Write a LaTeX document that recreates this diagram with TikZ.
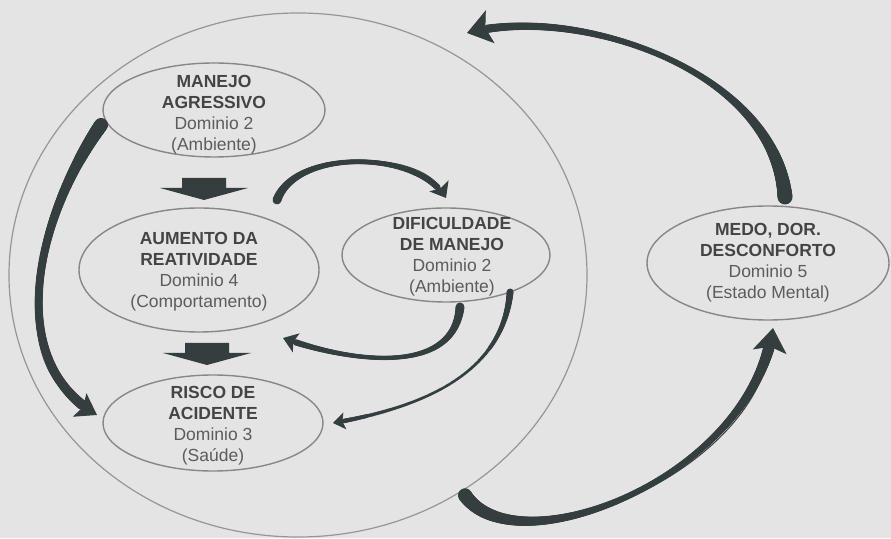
\documentclass[tikz,border=0pt]{standalone}
\usepackage{fontspec}
\setmainfont{Liberation Sans}
\usetikzlibrary{arrows.meta,shapes.geometric,decorations.markings}
\definecolor{bgc}{RGB}{228,228,228}
\definecolor{arrowc}{RGB}{52,62,62}
\definecolor{ellc}{RGB}{135,135,135}
\definecolor{bigc}{RGB}{150,150,150}
\definecolor{titlec}{RGB}{68,68,68}
\definecolor{bodyc}{RGB}{92,92,92}
\newcommand\headtxt[1]{\textcolor{titlec}{\textbf{#1}}}
\tikzset{
  ell/.style={ellipse, draw=ellc, line width=1.4pt, inner sep=0pt, outer sep=0pt},
  bigell/.style={ellipse, draw=bigc, line width=1.2pt, inner sep=0pt, outer sep=0pt},
  txt/.style={align=center, text=bodyc, font=\fontsize{17.5}{21}\selectfont, inner sep=0pt},
  taper/.style n args={6}{%
    draw=arrowc, line width=1pt, -{Stealth[length=#4,width=#5,inset=#6]},
    postaction={decorate, decoration={markings,
      mark=between positions 0 and -#4 step 1pt with {%
        \pgfmathsetmacro\tpos{(\pgfkeysvalueof{/pgf/decoration/mark info/sequence number}-1)/\pgfdecoratedpathlength}%
        \pgfmathsetmacro\trad{#2+(#1-#2)*max(0,1-2*\tpos)^2+(#3-#2)*max(0,2*\tpos-1)^2}%
        \fill[arrowc] (0,0) circle (\trad pt);}
    }}
  },
  blockarrow/.pic={\fill[arrowc] (-22,0) -- (22,0) -- (22,-10) -- (44,-10) -- (0,-22) -- (-44,-10) -- (-22,-10) -- cycle;}
}
\begin{document}
\begin{tikzpicture}[x=1pt,y=1pt]
\fill[bgc] (0,0) rectangle (891,538);
\useasboundingbox (0,0) rectangle (891,538);

% big enclosing circle
\node[bigell, minimum width=578, minimum height=524] (big) at (298,263) {};

% ellipses
\node[ell, minimum width=222, minimum height=94]  (m1) at (214,428) {};
\node[ell, minimum width=240, minimum height=124] (m2) at (199,268) {};
\node[ell, minimum width=220, minimum height=96]  (m3) at (213,115) {};
\node[ell, minimum width=208, minimum height=94]  (m4) at (446,283) {};
\node[ell, minimum width=242, minimum height=114] (m5) at (768,275) {};

% texts
\node[txt] (t1) at ([yshift=-5]m1.center) {\headtxt{MANEJO}\\\headtxt{AGRESSIVO}\\Dominio 2\\(Ambiente)};
\node[txt] (t2) at ([yshift=-2]m2.center) {\headtxt{AUMENTO DA}\\\headtxt{REATIVIDADE}\\Dominio 4\\(Comportamento)};
\node[txt] (t3) at ([yshift=-3]m3.center) {\headtxt{RISCO DE}\\\headtxt{ACIDENTE}\\Dominio 3\\(Saúde)};
\node[txt] (t4) at ([shift={(6,-2)}]m4.center) {\headtxt{DIFICULDADE}\\\headtxt{DE MANEJO}\\Dominio 2\\(Ambiente)};
\node[txt] (t5) at ([yshift=0]m5.center) {\headtxt{MEDO, DOR.}\\\headtxt{DESCONFORTO}\\Dominio 5\\(Estado Mental)};

% block arrows
\coordinate (ba1) at (204,360);
\coordinate (ba2) at (207,195);
\pic at (ba1) {blockarrow};
\pic at (ba2) {blockarrow};

% curved tapered arrows
% A: MANEJO AGRESSIVO -> RISCO DE ACIDENTE (left side)
\path[taper={7}{4}{5.5}{20pt}{27pt}{4pt}] ([shift={(-2,-15)}]m1.west) .. controls +(235:110) and +(150:110) .. ([shift={(-6,8)}]m3.west);
% B: AUMENTO -> DIFICULDADE
\path[taper={4.5}{2.5}{3.5}{14pt}{22pt}{3pt}] ([shift={(78,70)}]m2.center) .. controls +(70:55) and +(120:55) .. ([yshift=10]m4.north);
% C: DIFICULDADE -> AUMENTO
\path[taper={4.5}{2.2}{3.5}{14pt}{20pt}{3pt}] ([shift={(14,-5)}]m4.south) .. controls +(265:70) and +(340:70) .. ([shift={(84,-68)}]m2.center);
% D: DIFICULDADE -> RISCO
\path[taper={3.5}{1.5}{2.5}{12pt}{17pt}{2.5pt}] (m4.-30) .. controls +(265:85) and +(10:85) .. ([xshift=10]m3.east);
% E: big circle -> MEDO
\path[taper={7}{3}{6.5}{24pt}{34pt}{5pt}] ([shift={(4,-4)}]big.-53) .. controls +(-55:90) and +(262:150) .. ([shift={(5,-8)}]m5.south);
% F: MEDO -> big circle
\path[taper={7.5}{3}{4.5}{24pt}{34pt}{5pt}] ([shift={(17,9)}]m5.north) .. controls +(95:130) and +(15:110) .. ([shift={(169,-20)}]big.north);
\end{tikzpicture}
\end{document}
